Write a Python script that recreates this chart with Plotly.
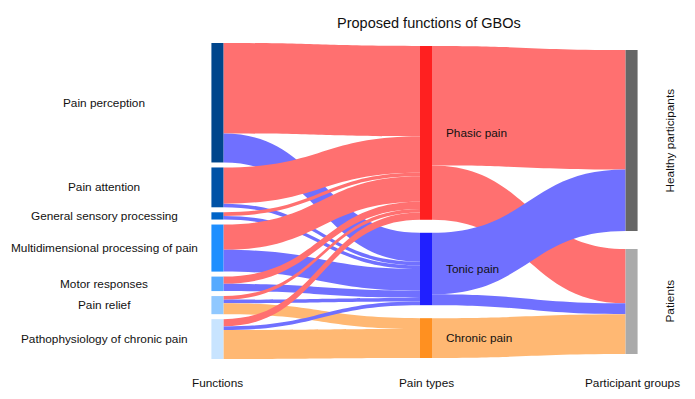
import plotly.graph_objects as go

# ---------------- data ----------------
functions = ["Pain perception", "Pain attention", "General sensory processing",
             "Multidimensional processing of pain", "Motor responses", "Pain relief",
             "Pathophysiology of chronic pain"]
pain_types = ["Phasic pain", "Tonic pain", "Chronic pain"]
groups = ["Healthy participants", "Patients"]

# function -> pain type (number of studies)
to_phasic = [25, 10, 1, 7, 2, 1, 2]
to_tonic = [8, 1, 1, 6, 2, 1, 1]
to_chronic = [0, 0, 0, 0, 0, 3, 8]

# pain type -> participant group
to_healthy = [33, 17, 0]
to_patients = [15, 3, 11]

column_titles = ["Functions", "Pain types", "Participant groups"]
title = "Proposed functions of GBOs"

# ---------------- styling / layout ----------------
W, H = 695, 399
OFF = 8  # page body margin
FONT = "Liberation Sans, Arial, sans-serif"
func_colors = ["#00468C", "#0052A6", "#0064C8", "#1E8FFF", "#55AAFF", "#90C8FF", "#C8E4FF"]
type_colors = ["#FF2020", "#2020FF", "#FF9020"]
type_link_colors = ["#FF7070", "#7070FF", "#FFB873"]
group_colors = ["#666666", "#AAAAAA"]


def px_x(p):
    return (p - OFF) / W


def px_y(p):
    return 1 - (p - OFF) / H


dom_left, dom_right = 217, 632       # px (node centres)
dom_top, dom_bot = 43, 359           # px
dom_h = dom_bot - dom_top
pad = 5
col_x_px = [217, 426, 632]
col_offset = [0, 3, 7]               # px from domain top
col_gap = [pad, 13, 18]

nf, nt, ng = len(functions), len(pain_types), len(groups)
func_tot = [a + b + c for a, b, c in zip(to_phasic, to_tonic, to_chronic)]
type_tot = [sum(to_phasic), sum(to_tonic), sum(to_chronic)]
group_tot = [sum(to_healthy), sum(to_patients)]
ky = (dom_h - (nf - 1) * pad) / sum(func_tot)


def centres(values, offset, gap):
    out, y = [], offset
    for v in values:
        h = v * ky
        out.append(y + h / 2)
        y += h + gap
    return out


cy = [centres(func_tot, col_offset[0], col_gap[0]),
      centres(type_tot, col_offset[1], col_gap[1]),
      centres(group_tot, col_offset[2], col_gap[2])]

dom_w = dom_right - dom_left
node_x, node_y = [], []
for c, ys in enumerate(cy):
    fx = (col_x_px[c] - dom_left) / dom_w
    fx = min(max(fx, 0.001), 0.999)
    for yv in ys:
        node_x.append(fx)
        node_y.append(yv / dom_h)

src, tgt, val, lcol = [], [], [], []
for i in range(nf):
    for j, arr in enumerate([to_phasic, to_tonic, to_chronic]):
        if arr[i] > 0:
            src.append(i); tgt.append(nf + j); val.append(arr[i]); lcol.append(type_link_colors[j])
for j in range(nt):
    for g, arr in enumerate([to_healthy, to_patients]):
        if arr[j] > 0:
            src.append(nf + j); tgt.append(nf + nt + g); val.append(arr[j]); lcol.append(type_link_colors[j])

names = functions + pain_types + groups
fig = go.Figure(go.Sankey(
    arrangement="fixed",
    domain=dict(x=[px_x(dom_left), px_x(dom_right)], y=[px_y(dom_bot), px_y(dom_top)]),
    node=dict(
        label=[""] * len(names),
        customdata=names,
        hovertemplate="%{customdata}: %{value}<extra></extra>",
        color=func_colors + type_colors + group_colors,
        x=node_x, y=node_y,
        pad=pad, thickness=12,
        line=dict(width=0),
    ),
    link=dict(source=src, target=tgt, value=val, color=lcol, line=dict(width=0)),
))

ann = []
fs = 11.8
for name, yv in zip(functions, cy[0]):
    ann.append(dict(x=px_x(104), y=px_y(dom_top + yv), text=name, xanchor="center", yanchor="middle",
                    font=dict(size=fs)))
for name, yv in zip(pain_types, cy[1]):
    ann.append(dict(x=px_x(444), y=px_y(dom_top + yv), text=name, xanchor="left", yanchor="middle",
                    font=dict(size=fs)))
for name, yv in zip(groups, cy[2]):
    ann.append(dict(x=px_x(670), y=px_y(dom_top + yv), text=name, xanchor="center", yanchor="middle",
                    textangle=-90, font=dict(size=fs)))
for name, xp in zip(column_titles, col_x_px):
    ann.append(dict(x=px_x(xp), y=px_y(383), text=name, xanchor="center", yanchor="middle",
                    font=dict(size=fs)))
ann.append(dict(x=px_x(429), y=px_y(23), text=title, xanchor="center", yanchor="middle",
                font=dict(size=14.5)))
for a in ann:
    a.update(xref="paper", yref="paper", showarrow=False)

fig.update_layout(
    width=W, height=H,
    margin=dict(l=0, r=0, t=0, b=0),
    paper_bgcolor="white", plot_bgcolor="white",
    font=dict(family=FONT, color="#111111"),
    annotations=ann,
)
fig.write_html("out.html")
